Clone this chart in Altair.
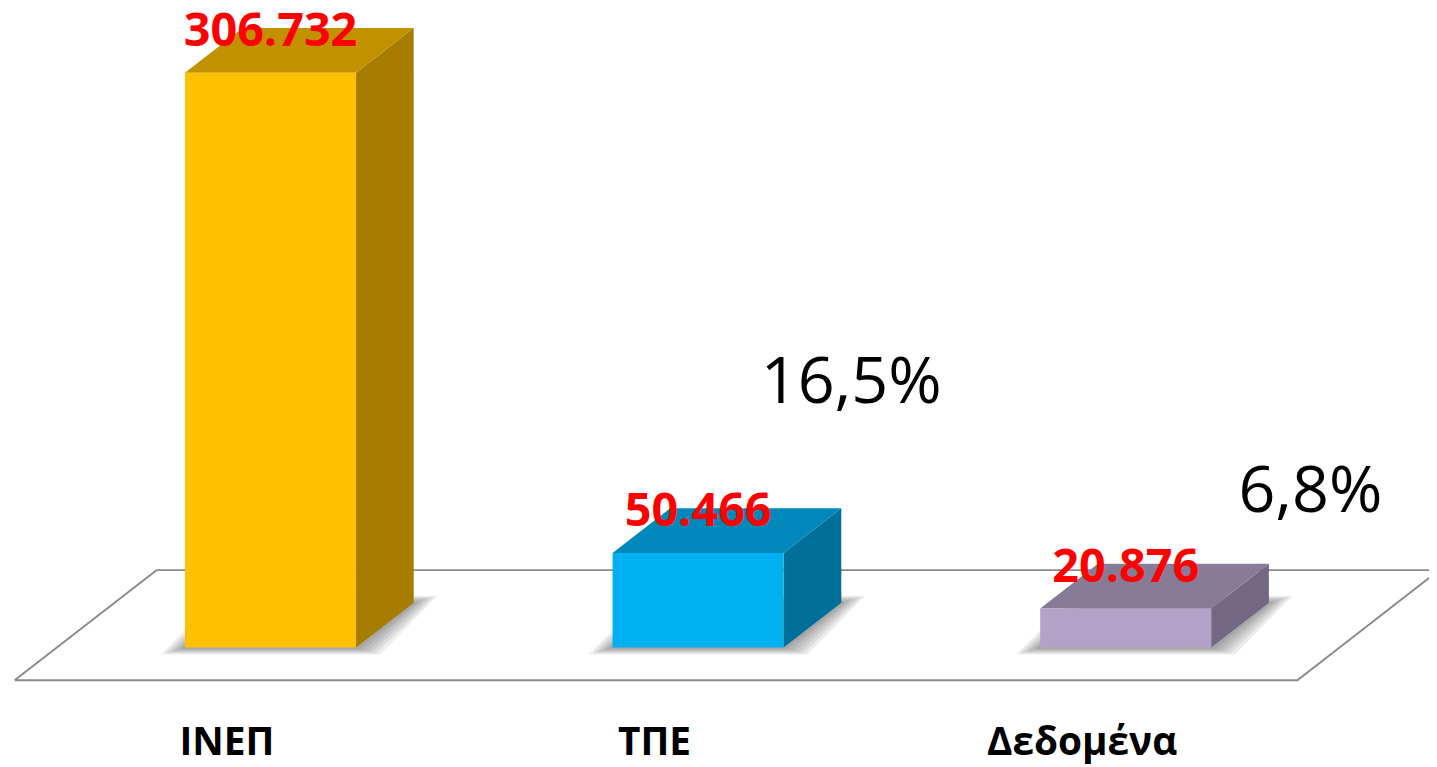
import altair as alt
import pandas as pd

# ---- data ----
categories = ["ΙΝΕΠ", "ΤΠΕ", "Δεδομένα"]
values = [306732, 50466, 20876]
pct_pos_x = [1.358, 2.432]       # annotation anchors (category units)
pct_pos_y = [130500, 72200]      # annotation anchors (value units)

# ---- style ----
front_colors = ["#FFC000", "#00B0F0", "#B3A2C7"]
top_colors = ["#C29100", "#0088BA", "#877C98"]
side_colors = ["#A67D00", "#006F99", "#726883"]

W, H = 1429, 759
PX_PER_CAT = 430.0
X0_PX = 264.0            # pixel of category 0 center
Y0_PX = 641.0            # pixel of value 0
K = 578.0 / 306732.0     # px per unit value
BAR_W = 0.40
DX = 58.0 / PX_PER_CAT   # depth offset in category units
DY = 45.0 / K            # depth offset in value units
FLOOR_FRONT, FLOOR_BACK = -0.73, 1.73
FLOOR_X0, FLOOR_X1 = -0.5, 2.5
CAT_OFF = -0.102
SHADOW_STEPS = 6
SHADOW_GX, SHADOW_GY = 24.0, 7.0

xscale = alt.Scale(domain=[-X0_PX / PX_PER_CAT, (W - X0_PX) / PX_PER_CAT], nice=False, zero=False)
yscale = alt.Scale(domain=[-(H - Y0_PX) / K, Y0_PX / K], nice=False, zero=False)
noax = dict(axis=None)

n = len(categories)
front = pd.DataFrame({
    "cat": categories,
    "xl": [i - BAR_W / 2 for i in range(n)],
    "xr": [i + BAR_W / 2 for i in range(n)],
    "v": values,
    "base": [0] * n,
})

side_rows, top_rows, shadow_rows = [], [], []
for i, (c, v) in enumerate(zip(categories, values)):
    side_rows.append({"cat": c, "x": i + BAR_W / 2, "lo": 0, "hi": v})
    side_rows.append({"cat": c, "x": i + BAR_W / 2 + DX, "lo": DY, "hi": v + DY})
    top_rows.append({"cat": c, "y": v, "xl": i - BAR_W / 2, "xr": i + BAR_W / 2})
    top_rows.append({"cat": c, "y": v + DY, "xl": i - BAR_W / 2 + DX, "xr": i + BAR_W / 2 + DX})
    for k in range(1, SHADOW_STEPS + 1):
        gx = SHADOW_GX * k / SHADOW_STEPS / PX_PER_CAT
        gy = SHADOW_GY * k / SHADOW_STEPS / K
        shadow_rows.append({"g": f"{c}-{k}", "y": -gy,
                            "xl": i - BAR_W / 2 - gx, "xr": i + BAR_W / 2 + gx})
        shadow_rows.append({"g": f"{c}-{k}", "y": DY + gy,
                            "xl": i - BAR_W / 2 + DX - gx, "xr": i + BAR_W / 2 + DX + gx})
side = pd.DataFrame(side_rows)
top = pd.DataFrame(top_rows)
shadow = pd.DataFrame(shadow_rows)

floor_pts = [(FLOOR_X0, FLOOR_FRONT), (FLOOR_X1, FLOOR_FRONT), (FLOOR_X1, FLOOR_BACK),
             (FLOOR_X0, FLOOR_BACK), (FLOOR_X0, FLOOR_FRONT)]
floor = pd.DataFrame({
    "o": list(range(len(floor_pts))),
    "x": [x + d * DX for x, d in floor_pts],
    "y": [d * DY for x, d in floor_pts],
})

labels = pd.DataFrame({
    "x": list(range(n)),
    "v": values,
    "t": [f"{v:,}".replace(",", ".") for v in values],
    "cat": categories,
    "cx": [i + CAT_OFF for i in range(n)],
})

pct = pd.DataFrame({
    "x": pct_pos_x,
    "y": pct_pos_y,
    "t": [f"{v / values[0] * 100:.1f}%".replace(".", ",") for v in values[1:]],
})

def cscale(rng):
    return alt.Color("cat:N", scale=alt.Scale(domain=categories, range=rng), legend=None)

floor_layer = alt.Chart(floor).mark_line(color="#8C8C8C", strokeWidth=2, clip=True).encode(
    x=alt.X("x:Q", scale=xscale, **noax),
    y=alt.Y("y:Q", scale=yscale, **noax),
    order="o:Q",
)

shadow_layer = alt.Chart(shadow).mark_area(orient="horizontal", color="#3a3a3a", opacity=0.09).encode(
    y=alt.Y("y:Q", scale=yscale, **noax),
    x=alt.X("xl:Q", scale=xscale, **noax), x2="xr:Q",
    detail="g:N",
)

front_layer = alt.Chart(front).mark_rect().encode(
    x=alt.X("xl:Q", scale=xscale, **noax), x2="xr:Q",
    y=alt.Y("base:Q", scale=yscale, **noax), y2="v:Q",
    color=cscale(front_colors),
)

side_layer = alt.Chart(side).mark_area(orient="vertical").encode(
    x=alt.X("x:Q", scale=xscale, **noax),
    y=alt.Y("hi:Q", scale=yscale, **noax), y2="lo:Q",
    detail="cat:N",
    color=cscale(side_colors),
)

top_layer = alt.Chart(top).mark_area(orient="horizontal").encode(
    y=alt.Y("y:Q", scale=yscale, **noax),
    x=alt.X("xl:Q", scale=xscale, **noax), x2="xr:Q",
    detail="cat:N",
    color=cscale(top_colors),
)

val_text = alt.Chart(labels).mark_text(
    font="Open Sans", fontWeight="bold", fontSize=47, color="#FF0000",
    baseline="alphabetic", align="center", dy=-27,
).encode(
    x=alt.X("x:Q", scale=xscale, **noax),
    y=alt.Y("v:Q", scale=yscale, **noax),
    text="t:N",
)

cat_text = alt.Chart(labels).mark_text(
    font="Open Sans", fontWeight="bold", fontSize=39, color="#000000",
    baseline="alphabetic", align="center", dy=108,
).encode(
    x=alt.X("cx:Q", scale=xscale, **noax),
    y=alt.value(Y0_PX),
    text="cat:N",
)

pct_text = alt.Chart(pct).mark_text(
    font="Open Sans", fontSize=65, color="#000000",
    baseline="alphabetic", align="center",
).encode(
    x=alt.X("x:Q", scale=xscale, **noax),
    y=alt.Y("y:Q", scale=yscale, **noax),
    text="t:N",
)

chart = alt.layer(
    floor_layer, shadow_layer, side_layer, top_layer, front_layer, val_text, pct_text, cat_text
).resolve_scale(color="independent").properties(
    width=W, height=H, padding=0, background="white",
    autosize=alt.AutoSizeParams(type="none"),
).configure_view(stroke=None)

chart.save("out.html", embed_options={"renderer": "svg", "actions": False})
